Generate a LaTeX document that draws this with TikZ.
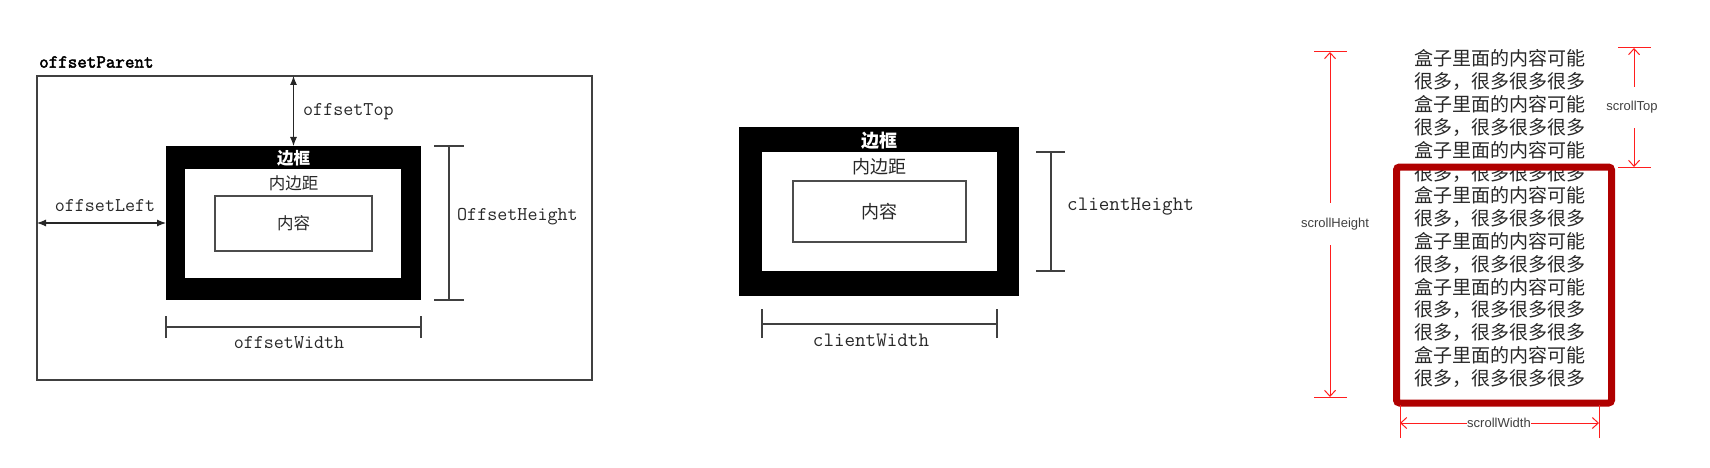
\documentclass[tikz,border=0pt]{standalone}
\usepackage{fontspec}
\setmainfont{Liberation Sans}
\newfontfamily\cjk{Noto Sans CJK SC}
\newfontfamily\typewr{Latin Modern Mono}
\newfontfamily\typewrbold[FakeBold=2.5]{Latin Modern Mono}
\usetikzlibrary{arrows.meta}
\definecolor{boxred}{RGB}{176,0,0}
\definecolor{dimred}{RGB}{255,30,30}
\definecolor{ink}{RGB}{40,40,40}
\begin{document}
\begin{tikzpicture}[x=1pt,y=-1pt,
  blk/.style={fill=black, draw=none, anchor=north west, inner sep=0pt, outer sep=0pt},
  pad/.style={fill=white, draw=none, anchor=north west, inner sep=0pt, outer sep=0pt},
  cont/.style={fill=white, draw=black!70, line width=1.2pt, anchor=north west, inner sep=0pt, outer sep=0pt},
  monoA/.style={font=\fontsize{19.5}{21}\selectfont\typewr, text=ink, inner sep=0pt},
  monoB/.style={font=\fontsize{20.5}{22}\selectfont\typewr, text=ink, inner sep=0pt},
  cjkA/.style={font=\fontsize{16.5}{18}\selectfont\cjk, text=ink, inner sep=0pt},
  cjkB/.style={font=\fontsize{18}{20}\selectfont\cjk, text=ink, inner sep=0pt},
  dim/.style={draw=black!75, line width=1.1pt},
  darr/.style={draw=black!85, line width=1.1pt, {Latex[length=9pt,width=7pt]}-{Latex[length=9pt,width=7pt]}},
  rdim/.style={draw=dimred, line width=1pt},
  rtip/.style={-{Straight Barb[length=6pt,width=11pt]}},
  slabel/.style={font=\fontsize{13}{14}\selectfont, text=black!75, inner sep=0pt},
  body/.style={font=\fontsize{19}{22}\selectfont\cjk, text=ink, inner sep=0pt, anchor=base west}
]
\useasboundingbox (0,0) rectangle (1710,468);

% ---------------- left panel: offset ----------------
\node[draw=black!75, line width=1.4pt, anchor=north west, inner sep=0pt, outer sep=0pt,
      minimum width=555pt, minimum height=304pt] (parent) at (37,76) {};
\node[anchor=west, font=\fontsize{18.5}{20}\selectfont\typewrbold, inner sep=0pt] (parentlbl) at (39,62) {offsetParent};

\node[blk, minimum width=255pt, minimum height=154pt] (border1) at (166,146) {};
\node[pad, minimum width=216pt, minimum height=109pt] (pad1) at (185,169) {};
\node[cont, minimum width=157pt, minimum height=55pt] (cont1) at (215,196) {};
\node[cjkA, text=white, font=\fontsize{16.5}{18}\selectfont\cjk\bfseries] (bt1) at (293.5,158) {边框};
\node[cjkA] (pt1) at (293.5,183) {内边距};
\node[cjkA] (ct1) at (293.5,223.5) {内容};

% offsetTop
\draw[darr] (parent.north -| border1.north) -- (border1.north);
\node[monoA, anchor=west] (toplbl) at (303,112) {offsetTop};
% offsetLeft
\draw[darr] (parent.west |- border1.west) -- (border1.west);
\node[monoA] (leftlbl) at (105,206) {offsetLeft};
% OffsetHeight
\coordinate (oh1) at (449,146);
\coordinate (oh2) at (449,300);
\draw[dim] (oh1) -- (oh2);
\draw[dim] ([xshift=-15pt]oh1) -- ([xshift=15pt]oh1);
\draw[dim] ([xshift=-15pt]oh2) -- ([xshift=15pt]oh2);
\node[monoA, anchor=west] (ohlbl) at (457,217) {OffsetHeight};
% offsetWidth
\coordinate (ow1) at (166,327);
\coordinate (ow2) at (421,327);
\draw[dim] (ow1) -- (ow2);
\draw[dim] ([yshift=-11pt]ow1) -- ([yshift=11pt]ow1);
\draw[dim] ([yshift=-11pt]ow2) -- ([yshift=11pt]ow2);
\node[monoA] (owlbl) at (289,343) {offsetWidth};

% ---------------- middle panel: client ----------------
\node[blk, minimum width=280pt, minimum height=169pt] (border2) at (739,127) {};
\node[pad, minimum width=235pt, minimum height=119pt] (pad2) at (762,152) {};
\node[cont, minimum width=173pt, minimum height=61pt] (cont2) at (793,181) {};
\node[cjkB, text=white, font=\fontsize{18}{20}\selectfont\cjk\bfseries] (bt2) at (879,141) {边框};
\node[cjkB] (pt2) at (879,167) {内边距};
\node[cjkB] (ct2) at (879,212) {内容};

% clientHeight
\coordinate (ch1) at (1051,152);
\coordinate (ch2) at (1051,271);
\draw[dim] (ch1) -- (ch2);
\draw[dim] ([xshift=-15pt]ch1) -- ([xshift=14pt]ch1);
\draw[dim] ([xshift=-15pt]ch2) -- ([xshift=14pt]ch2);
\node[monoB, anchor=west] (chlbl) at (1067,207) {clientHeight};
% clientWidth
\coordinate (cw1) at (762,324);
\coordinate (cw2) at (997,324);
\draw[dim] (cw1) -- (cw2);
\draw[dim] ([yshift=-14pt]cw1) -- ([yshift=15pt]cw1);
\draw[dim] ([yshift=-14pt]cw2) -- ([yshift=15pt]cw2);
\node[monoB] (cwlbl) at (871,340) {clientWidth};

% ---------------- right panel: scroll ----------------
\foreach \t [count=\i] in {盒子里面的内容可能,很多，很多很多很多,盒子里面的内容可能,很多，很多很多很多,
  盒子里面的内容可能,很多，很多很多很多,盒子里面的内容可能,很多，很多很多很多,
  盒子里面的内容可能,很多，很多很多很多,盒子里面的内容可能,很多，很多很多很多,
  很多，很多很多很多,盒子里面的内容可能,很多，很多很多很多}
  \node[body] (line\i) at (1414,{66+(\i-1)*22.8}) {\t};

\node[draw=boxred, line width=7pt, rounded corners=3pt, anchor=north west, inner sep=0pt,
      minimum width=215pt, minimum height=236pt] (scrollbox) at (1393,163.5) {};

% scrollHeight
\coordinate (sh1) at (1330,52);
\coordinate (sh2) at (1330,397);
\node[slabel, minimum height=42pt] (shlbl) at (1335,224) {scrollHeight};
\draw[rdim, rtip] (shlbl.north -| sh1) -- (sh1);
\draw[rdim, rtip] (shlbl.south -| sh2) -- (sh2);
\draw[rdim] ([xshift=-16pt]sh1) -- ([xshift=17pt]sh1);
\draw[rdim] ([xshift=-16pt]sh2) -- ([xshift=17pt]sh2);

% scrollTop
\coordinate (st1) at (1634,48);
\coordinate (st2) at (1634,167);
\node[slabel, minimum height=41pt] (stlbl) at (1632,107.5) {scrollTop};
\draw[rdim, rtip] (stlbl.north -| st1) -- (st1);
\draw[rdim, rtip] (stlbl.south -| st2) -- (st2);
\draw[rdim] ([xshift=-16pt]st1) -- ([xshift=17pt]st1);
\draw[rdim] ([xshift=-16pt]st2) -- ([xshift=17pt]st2);

% scrollWidth
\coordinate (sw1) at (1400,423);
\coordinate (sw2) at (1599,423);
\draw[rdim, {Straight Barb[length=6pt,width=11pt]}-{Straight Barb[length=6pt,width=11pt]}] (sw1) -- (sw2);
\draw[rdim] ([yshift=-15pt]sw1) -- ([yshift=18pt]sw1);
\draw[rdim] ([yshift=-15pt]sw2) -- ([yshift=18pt]sw2);
\node[slabel, fill=white, inner xsep=0.5pt] (swlbl) at (1499,423) {scrollWidth};
\end{tikzpicture}
\end{document}
